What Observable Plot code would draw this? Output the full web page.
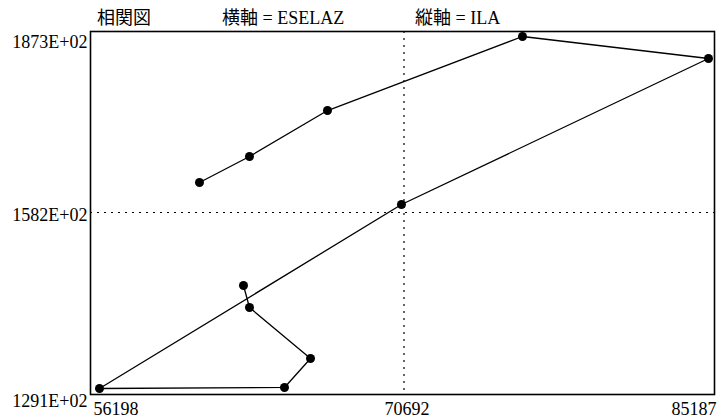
<!DOCTYPE html>
<html>
<head>
<meta charset="utf-8">
<script src="https://cdn.jsdelivr.net/npm/d3@7"></script>
<script src="https://cdn.jsdelivr.net/npm/@observablehq/plot@0.6"></script>
<style>
  html, body { margin: 0; padding: 0; background: #fff; }
  #wrap { position: relative; width: 721px; height: 418px; }
  .ttl { position: absolute; top: 6px; font-family: "Liberation Serif", "Noto Sans CJK JP", serif; font-size: 18px; color: #000; white-space: nowrap; line-height: 24px; }
</style>
</head>
<body>
<div id="wrap"></div>
<script>
// Order of observations (connected path)
const eselaz = [60958, 63338, 67051, 76333, 85187, 70573, 56198, 65004, 66242, 63338, 63052];
const ila    = [163160, 167460, 175060, 187300, 183660, 159520, 129100, 129270, 134060, 142490, 146130];
const xTicks = [56198, 70692, 85187];
const yTicks = [129100, 158200, 187300];
const titles = ["相関図", "横軸 = ESELAZ", "縦軸 = ILA"];
const titleLeft = [97, 222, 415];

const data = eselaz.map((x, i) => ({x, y: ila[i]}));
const fmtY = d => Math.round(d / 100) + "E+02";
const font = "Liberation Serif, serif";

const plot = Plot.plot({
  width: 721,
  height: 418,
  marginLeft: 90,
  marginRight: 7,
  marginTop: 31,
  marginBottom: 24,
  insetLeft: 9,
  insetRight: 6,
  insetTop: 5,
  insetBottom: 6,
  style: {fontFamily: font, fontSize: "18px", color: "#000", background: "#fff"},
  x: {domain: [56198, 85187], label: null},
  y: {domain: [129100, 187300], label: null},
  marks: [
    Plot.ruleX([xTicks[1]], {stroke: "#000", strokeWidth: 1.2, strokeDasharray: "2,5"}),
    Plot.ruleY([yTicks[1]], {stroke: "#000", strokeWidth: 1.2, strokeDasharray: "2,5"}),
    Plot.frame({stroke: "#000", strokeWidth: 1.6}),
    Plot.line(data, {x: "x", y: "y", stroke: "#000", strokeWidth: 1.3}),
    Plot.dot(data, {x: "x", y: "y", r: 4.5, fill: "#000", stroke: "none"}),
    Plot.axisX([xTicks[0]], {label: null, tickSize: 0, tickPadding: 8, textAnchor: "start", dx: -6, fontSize: 18, tickFormat: d => String(d)}),
    Plot.axisX([xTicks[1]], {label: null, tickSize: 0, tickPadding: 8, dx: 3, fontSize: 18, tickFormat: d => String(d)}),
    Plot.axisX([xTicks[2]], {label: null, tickSize: 0, tickPadding: 8, textAnchor: "end", dx: 8, fontSize: 18, tickFormat: d => String(d)}),
    Plot.axisY([yTicks[2]], {label: null, tickSize: 0, tickPadding: 3, dy: 6, fontSize: 18, tickFormat: fmtY}),
    Plot.axisY([yTicks[1]], {label: null, tickSize: 0, tickPadding: 3, dy: 3, fontSize: 18, tickFormat: fmtY}),
    Plot.axisY([yTicks[0]], {label: null, tickSize: 0, tickPadding: 3, dy: 13, fontSize: 18, tickFormat: fmtY})
  ]
});
const wrap = document.getElementById("wrap");
wrap.appendChild(plot);
titles.forEach((t, i) => {
  const d = document.createElement("div");
  d.className = "ttl";
  d.style.left = titleLeft[i] + "px";
  d.textContent = t;
  wrap.appendChild(d);
});
</script>
</body>
</html>
